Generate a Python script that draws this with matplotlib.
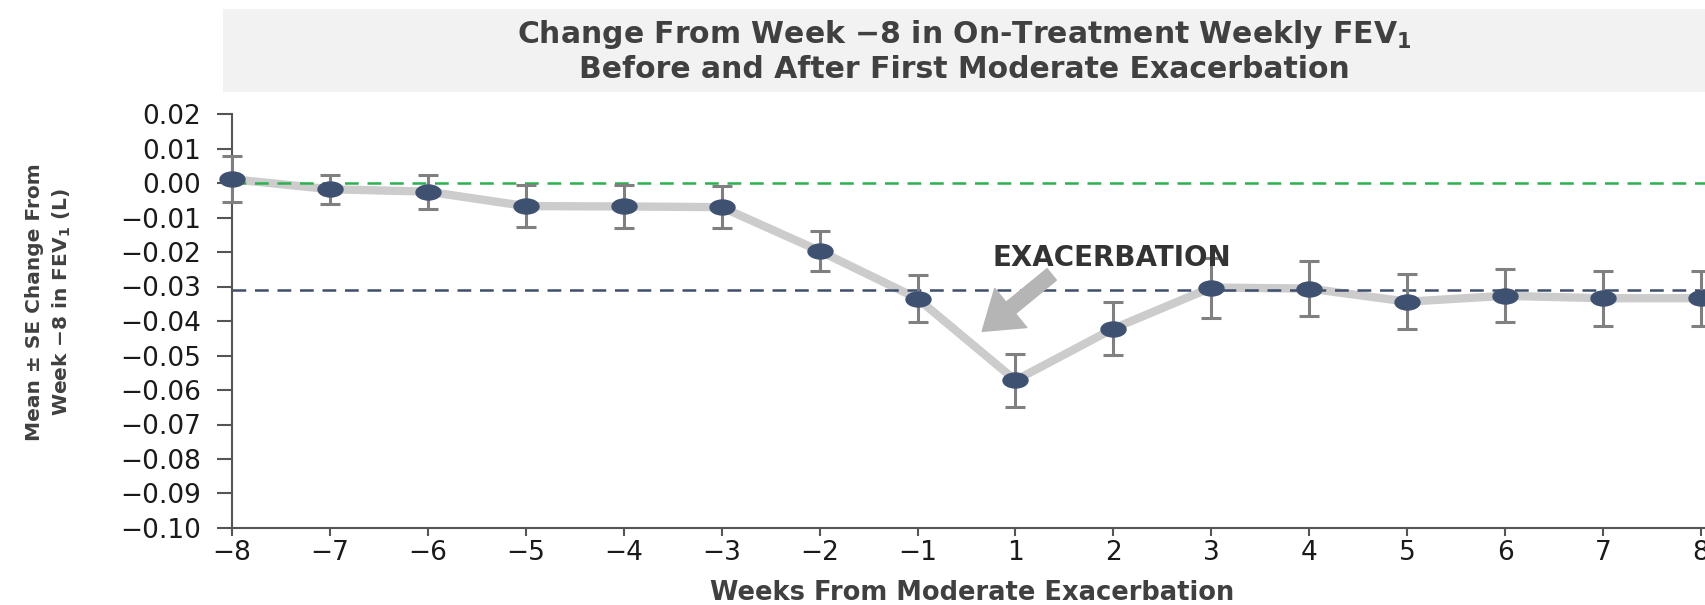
import numpy as np
import matplotlib
matplotlib.use("Agg")
import matplotlib.pyplot as plt
from matplotlib.path import Path
from matplotlib.transforms import Affine2D
from matplotlib.patches import Rectangle

# data
weeks = [-8, -7, -6, -5, -4, -3, -2, -1, 1, 2, 3, 4, 5, 6, 7, 8]
mean_change = [0.0011, -0.0018, -0.0025, -0.0067, -0.0068, -0.0070, -0.0197, -0.0335,
               -0.0572, -0.0422, -0.0303, -0.0306, -0.0344, -0.0327, -0.0334, -0.0334]
se = [0.0067, 0.0042, 0.0049, 0.0060, 0.0062, 0.0060, 0.0057, 0.0068,
      0.0077, 0.0076, 0.0087, 0.0080, 0.0080, 0.0077, 0.0080, 0.0080]
yticks = [0.02, 0.01, 0.00, -0.01, -0.02, -0.03, -0.04, -0.05, -0.06, -0.07, -0.08, -0.09, -0.10]
ref_zero = 0.0
ref_post = -0.031

dark = "#404040"
navy = "#3f5170"

fig = plt.figure(figsize=(17.06, 6.05), dpi=100)
W, H = 1706, 605

# grey title banner
fig.patches.append(Rectangle((223 / W, 1 - 92 / H), 1 - 223 / W, 83 / H,
                             transform=fig.transFigure, facecolor="#f2f2f2",
                             edgecolor="none", zorder=0))
fig.text(964 / W, 1 - 51 / H,
         "Change From Week \u22128 in On-Treatment Weekly FEV$_\\mathbf{1}$\n"
         "Before and After First Moderate Exacerbation",
         ha="center", va="center", fontsize=21.5, fontweight="bold",
         color=dark, linespacing=1.15)

ax = fig.add_axes([232 / W, 77 / H, 1474 / W, 414 / H])
x = np.arange(len(weeks))

ax.plot(x, mean_change, color="#cccccc", lw=6, solid_capstyle="butt", zorder=2)
ax.axhline(ref_zero, color="#2bb14f", lw=1.8, ls=(0, (5.5, 3.5)), zorder=2.5)
ax.axhline(ref_post, color="#3f4f6b", lw=1.8, ls=(0, (5.5, 3.5)), zorder=2.5)
ax.errorbar(x, mean_change, yerr=se, fmt="none", ecolor="#808080", elinewidth=2.2,
            capsize=7.5, capthick=2.2, zorder=3, clip_on=False)

ellipse = Path.unit_circle().transformed(Affine2D().scale(1.0, 0.6))
ax.plot(x, mean_change, ls="none", marker=ellipse, markersize=18, color=navy,
        zorder=4, clip_on=False)

ax.annotate("", xy=(7.66, -0.0430), xytext=(8.37, -0.0265),
            arrowprops=dict(arrowstyle="simple,head_length=0.95,head_width=1.3,tail_width=0.38",
                            color="#b5b5b5", mutation_scale=28, shrinkA=0, shrinkB=0),
            zorder=3)
ax.text(8.98, -0.0217, "EXACERBATION", ha="center", va="center", fontsize=20,
        fontweight="bold", color="#333333", zorder=5)

ax.set_xlim(0, 15 * 1474 / 1469)
ax.set_ylim(-0.10, 0.02)
ax.set_xticks(x)
ax.set_xticklabels([str(w).replace("-", "\u2212") for w in weeks])
ax.set_yticks(yticks)
ax.set_yticklabels([f"{v:.2f}".replace("-", "\u2212") if v != 0 else "0.00" for v in yticks])

for s in ["top", "right"]:
    ax.spines[s].set_visible(False)
for s in ["left", "bottom"]:
    ax.spines[s].set_color("#555555")
    ax.spines[s].set_linewidth(1.5)

ax.tick_params(axis="y", direction="out", length=11, width=1.5, color="#555555",
               pad=11, labelsize=19, labelcolor="#1a1a1a")
ax.tick_params(axis="x", direction="out", length=6, width=1.5, color="#555555",
               pad=3, labelsize=19, labelcolor="#1a1a1a")

ax.set_xlabel("Weeks From Moderate Exacerbation", fontsize=18.5, fontweight="bold",
              color=dark)
ax.xaxis.set_label_coords((972 - 232) / 1474, -(593 - 528) / 414)
ax.xaxis.label.set_va("center")

ax.set_ylabel("Mean \u00b1 SE Change From\nWeek \u22128 in FEV$_\\mathbf{1}$ (L)",
              fontsize=14.5, fontweight="bold", color=dark, linespacing=1.4)
ax.yaxis.set_label_coords((49 - 232) / 1474, (528 - 302) / 414)
ax.yaxis.label.set_va("center")

fig.savefig("out.png", dpi=100)
